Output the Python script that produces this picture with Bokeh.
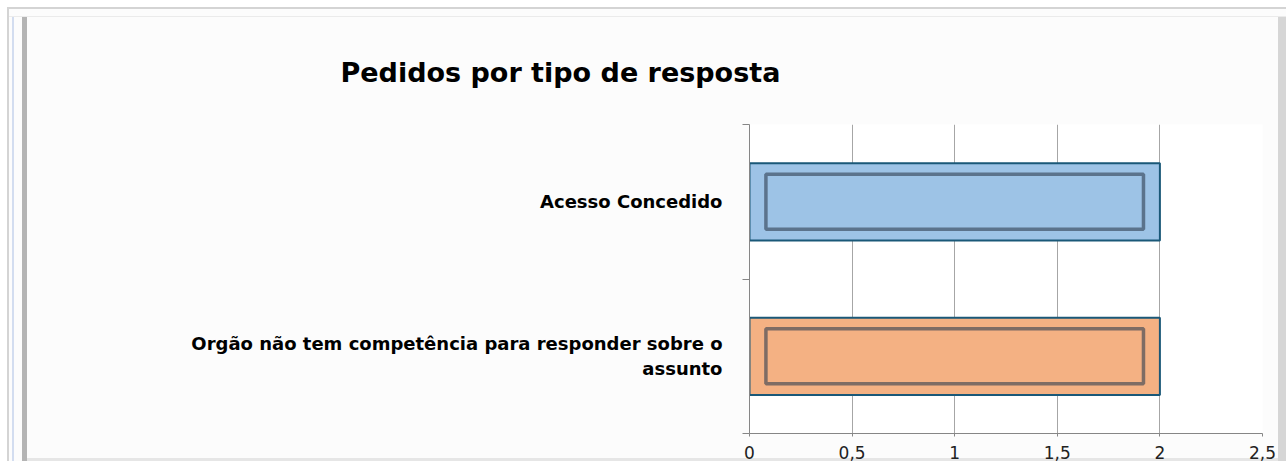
from bokeh.plotting import figure
from bokeh.models import FixedTicker, Range1d, Title
from bokeh.embed import file_html
from bokeh.resources import INLINE

# ---- data ----
title_text = "Pedidos por tipo de resposta"
categories = ["Acesso Concedido",
              "Orgão não tem competência para responder sobre o\nassunto"]
values = [2, 2]
bar_colors = ["#9dc3e6", "#f4b183"]
x_ticks = [0, 0.5, 1, 1.5, 2, 2.5]
x_tick_labels = ["0", "0,5", "1", "1,5", "2", "2,5"]

n = len(categories)
# top category first: positions counted from the top of the axis
ypos = [n - i - 0.5 for i in range(n)]

W, H = 1286, 461
p = figure(width=W, height=H, output_backend="svg", toolbar_location=None,
           x_range=Range1d(0, 2.5), y_range=Range1d(0, n),
           min_border_left=749, min_border_right=24,
           min_border_top=124, min_border_bottom=28, title=None)
p.background_fill_color = "#ffffff"
p.border_fill_color = None
p.outline_line_color = None
# chart-area frame (Excel-like borders) drawn with CSS on the figure element
p.styles = {
    "background-color": "#fcfcfc",
    "box-shadow": ", ".join([
        "inset 7px 7px 0 0 #ffffff",
        "inset 9px 9px 0 0 #d4d4d4",
        "inset 0 16px 0 0 #fcfcfc",
        "inset 0 17px 0 0 #ebebeb",
        "inset 12px 0 0 0 #fcfcfc",
        "inset 14px 0 0 0 #d3ddf0",
        "inset 22px 0 0 0 #fcfcfc",
        "inset 27px 0 0 0 #b4b4b4",
        "inset -8px 0 0 0 #d6d6d6",
        "inset 0 -3px 0 0 #e6e6e6",
    ]),
}

# bars
p.hbar(y=ypos, left=0, right=values, height=0.5, fill_color=bar_colors,
       line_color="#1a5878", line_width=2)
inset = 0.08
p.hbar(y=ypos, left=[inset] * n, right=[v - inset for v in values], height=0.356,
       fill_color=None, line_color="#2e3e50", line_alpha=0.6, line_width=3.5)

# x axis
p.xaxis.ticker = FixedTicker(ticks=x_ticks)
p.xaxis.major_label_overrides = {t: l for t, l in zip(x_ticks, x_tick_labels)}
p.xaxis.axis_line_color = "#868686"
p.xaxis.major_tick_line_color = "#868686"
p.xaxis.major_tick_out = 3
p.xaxis.major_tick_in = 0
p.xaxis.minor_tick_line_color = None
p.xaxis.major_label_standoff = 9
p.xaxis.major_label_text_font = "DejaVu Sans"
p.xaxis.major_label_text_font_size = "17px"
p.xaxis.major_label_text_color = "#222222"

# y axis (categories)
p.yaxis.ticker = FixedTicker(ticks=ypos, minor_ticks=list(range(n + 1)))
p.yaxis.major_label_overrides = {y: c for y, c in zip(ypos, categories)}
p.yaxis.axis_line_color = "#868686"
p.yaxis.major_tick_line_color = None
p.yaxis.minor_tick_line_color = "#868686"
p.yaxis.minor_tick_out = 7
p.yaxis.minor_tick_in = 0
p.yaxis.major_label_standoff = 20
p.yaxis.major_label_text_font = "DejaVu Sans"
p.yaxis.major_label_text_font_style = "bold"
p.yaxis.major_label_text_font_size = "18px"
p.yaxis.major_label_text_color = "#000000"

p.xgrid.ticker = FixedTicker(ticks=x_ticks)
p.xgrid.grid_line_color = "#a6a6a6"
p.ygrid.grid_line_color = None

# title
p.add_layout(Title(text=title_text, align="left", offset=-409, standoff=70,
                   vertical_align="top",
                   text_font="DejaVu Sans", text_font_style="bold",
                   text_font_size="27px", text_color="#000000"), "above")

open("out.html", "w").write(file_html(p, INLINE))
